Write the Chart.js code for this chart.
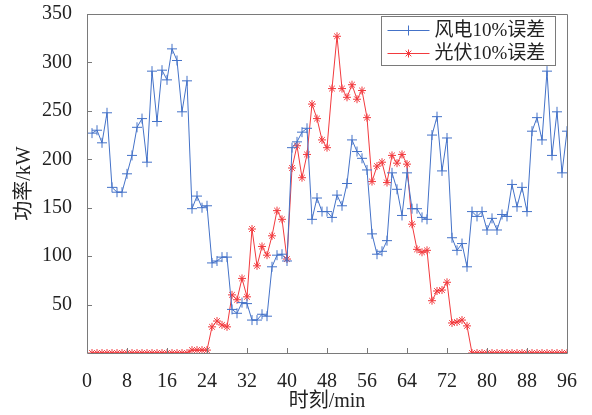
<!DOCTYPE html>
<html>
<head>
<meta charset="utf-8">
<script src="https://cdn.jsdelivr.net/npm/chart.js@4.4.1/dist/chart.umd.min.js"></script>
<style>
html,body{margin:0;padding:0;background:#fff;}
#wrap{width:592px;height:415px;}
</style>
</head>
<body>
<div id="wrap"><canvas id="c" width="592" height="415"></canvas></div>
<script>
const timeSteps = Array.from({length: 96}, (_, i) => i + 1);
const xTicks = [0, 8, 16, 24, 32, 40, 48, 56, 64, 72, 80, 88, 96];
const yTicks = [50, 100, 150, 200, 250, 300, 350];
const seriesNames = ['风电10%误差', '光伏10%误差'];
const windPower = [
  227, 230, 217, 248, 171, 166, 166, 185, 204, 233, 242, 197,
  291, 239, 292, 282, 314, 302, 249, 281, 149, 162, 150, 152,
  93, 95, 99, 99, 45, 41, 52, 51, 34, 34, 40, 38,
  89, 101, 102, 95, 212, 218, 228, 232, 138, 160, 146, 146,
  140, 163, 152, 175, 220, 208, 201, 189, 123, 102, 105, 116,
  186, 169, 142, 186, 149, 149, 140, 138, 225, 244, 188, 222,
  119, 106, 113, 89, 146, 141, 146, 127, 139, 127, 143, 141,
  174, 151, 171, 146, 229, 243, 220, 291, 204, 249, 186, 229
];
const solarPower = [
  0, 0, 0, 0, 0, 0, 0, 0, 0, 0, 0, 0,
  0, 0, 0, 0, 0, 0, 0, 0, 3, 3, 3, 3,
  27, 33, 29, 27, 60, 55, 77, 58, 128, 90, 110, 101,
  121, 147, 138, 97, 191, 214, 181, 205, 257, 242, 220, 212,
  273, 327, 273, 264, 277, 262, 271, 243, 177, 193, 197, 176,
  204, 196, 205, 195, 133, 107, 104, 106, 54, 64, 65, 73,
  31, 32, 34, 28, 0, 0, 0, 0, 0, 0, 0, 0,
  0, 0, 0, 0, 0, 0, 0, 0, 0, 0, 0, 0
];

const BLUE = '#4472C8';
const RED = '#F23A3E';
const AXIS = '#7a7a7a';
const TEXT = '#222222';
const FONT = '"Liberation Serif", "Noto Sans CJK SC", serif';

const toXY = arr => arr.map((v, i) => ({x: timeSteps[i], y: v}));

const framePlugin = {
  id: 'frame',
  afterDraw(chart) {
    const {ctx, chartArea: a, scales} = chart;
    ctx.save();
    ctx.strokeStyle = AXIS;
    ctx.lineWidth = 1;
    ctx.beginPath();
    ctx.rect(Math.round(a.left) + 0.5, Math.round(a.top) + 0.5,
             Math.round(a.right - a.left), Math.round(a.bottom - a.top));
    ctx.stroke();
    ctx.beginPath();
    xTicks.forEach(v => {
      const px = Math.round(scales.x.getPixelForValue(v)) + 0.5;
      ctx.moveTo(px, a.bottom);
      ctx.lineTo(px, a.bottom - 5);
    });
    yTicks.forEach(v => {
      const py = Math.round(scales.y.getPixelForValue(v)) + 0.5;
      ctx.moveTo(a.left, py);
      ctx.lineTo(a.left + 5, py);
    });
    ctx.stroke();

    // legend box
    const bx = Math.round(a.right - 186) + 0.5, by = Math.round(a.top + 2) + 0.5;
    const bw = 174, bh = 49;
    ctx.fillStyle = '#fff';
    ctx.fillRect(bx, by, bw, bh);
    ctx.strokeStyle = AXIS;
    ctx.strokeRect(bx, by, bw, bh);
    chart.data.datasets.forEach((ds, i) => {
      const cy = by + 14 + i * 23;
      ctx.strokeStyle = ds.borderColor;
      ctx.lineWidth = 1;
      ctx.beginPath();
      ctx.moveTo(bx + 6, cy);
      ctx.lineTo(bx + 48, cy);
      ctx.stroke();
      Chart.helpers.drawPoint(ctx, {pointStyle: ds.pointStyle, radius: ds.pointRadius, borderWidth: 1}, bx + 27, cy);
      ctx.fillStyle = TEXT;
      ctx.font = '19px ' + FONT;
      ctx.textBaseline = 'middle';
      ctx.textAlign = 'left';
      ctx.fillText(ds.label, bx + 53, cy + 1);
    });
    ctx.restore();
  }
};

new Chart(document.getElementById('c'), {
  type: 'line',
  data: {
    datasets: [
      {
        label: seriesNames[0],
        data: toXY(windPower),
        borderColor: BLUE,
        backgroundColor: BLUE,
        borderWidth: 1,
        pointStyle: 'cross',
        pointRadius: 5,
        pointBorderWidth: 1,
        pointBorderColor: BLUE,
        tension: 0
      },
      {
        label: seriesNames[1],
        data: toXY(solarPower),
        borderColor: RED,
        backgroundColor: RED,
        borderWidth: 1,
        pointStyle: 'star',
        pointRadius: 4,
        pointBorderWidth: 1,
        pointBorderColor: RED,
        tension: 0
      }
    ]
  },
  options: {
    responsive: false,
    animation: false,
    devicePixelRatio: 1,
    layout: {padding: {left: 0, right: 25, top: 14, bottom: 0}},
    plugins: {legend: {display: false}, tooltip: {enabled: false}},
    scales: {
      x: {
        type: 'linear',
        min: 0, max: 96,
        afterBuildTicks(scale) { scale.ticks = xTicks.map(v => ({value: v})); },
        afterFit(scale) { scale.height = 62; scale.paddingLeft = 0; scale.paddingRight = 0; },
        grid: {display: false},
        border: {display: false},
        ticks: {color: TEXT, font: {family: FONT, size: 20}, padding: 9, maxRotation: 0, autoSkip: false},
        title: {display: true, text: '时刻/min', color: TEXT, font: {family: FONT, size: 20}, padding: {top: 0, bottom: 1}}
      },
      y: {
        type: 'linear',
        min: 0, max: 350,
        afterBuildTicks(scale) { scale.ticks = yTicks.map(v => ({value: v})); },
        afterFit(scale) { scale.width = 87; scale.paddingTop = 0; scale.paddingBottom = 0; },
        grid: {display: false},
        border: {display: false},
        ticks: {color: TEXT, font: {family: FONT, size: 20}, padding: 7, autoSkip: false},
        title: {display: true, text: '功率/kW', color: TEXT, font: {family: FONT, size: 20}, padding: {top: 13, bottom: 0}}
      }
    }
  },
  plugins: [framePlugin]
});
</script>
</body>
</html>
